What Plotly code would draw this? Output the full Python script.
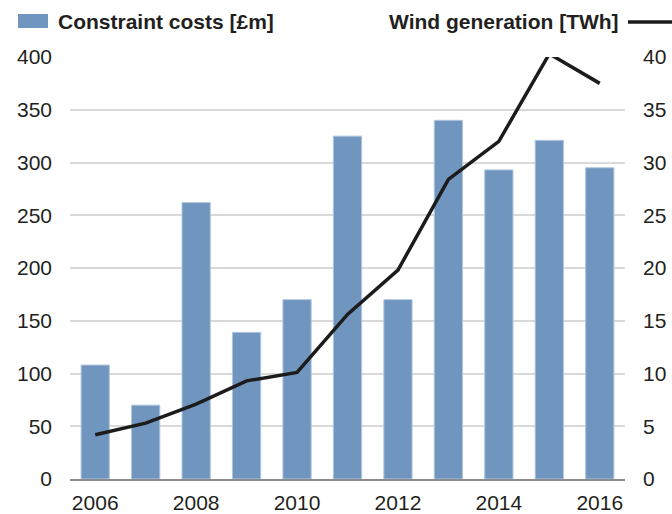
import plotly.graph_objects as go

years = [2006, 2007, 2008, 2009, 2010, 2011, 2012, 2013, 2014, 2015, 2016]
constraint_costs = [108, 70, 262, 139, 170, 325, 170, 340, 293, 321, 295]
wind_generation = [4.2, 5.3, 7.1, 9.3, 10.1, 15.6, 19.8, 28.4, 32.0, 40.3, 37.5]
x_tick_vals = [2006, 2008, 2010, 2012, 2014, 2016]
left_ticks = [0, 50, 100, 150, 200, 250, 300, 350, 400]
right_ticks = [0, 5, 10, 15, 20, 25, 30, 35, 40]

FONT = "Liberation Sans, Arial, sans-serif"
BAR_COLOR = "#7096bf"
LINE_COLOR = "#1c1c1c"
TEXT_COLOR = "#231f20"

L, R, T, B = 70, 47, 57, 35
PW = 672 - L - R
PH = 514 - T - B


def px(x):
    return (x - L) / PW


def py(y):
    return (514 - B - y) / PH


fig = go.Figure()
fig.add_trace(go.Bar(
    x=years, y=constraint_costs, name="Constraint costs [£m]",
    marker=dict(color=BAR_COLOR, line=dict(color="#b0c6df", width=1)),
    showlegend=False, yaxis="y",
))
fig.add_trace(go.Scatter(
    x=years, y=wind_generation, name="Wind generation [TWh]",
    mode="lines", line=dict(color=LINE_COLOR, width=3.5),
    showlegend=False, yaxis="y2", cliponaxis=False,
))

fig.update_layout(
    width=672, height=514,
    margin=dict(l=L, r=R, t=T, b=B, autoexpand=False),
    paper_bgcolor="white", plot_bgcolor="white",
    bargap=0.44,
    font=dict(family=FONT, size=21, color=TEXT_COLOR),
    xaxis=dict(
        range=[2005.5, 2016.5], tickvals=x_tick_vals, automargin=False,
        showgrid=False, showline=True, linecolor="#8c8c8c", linewidth=2,
        ticks="", ticklabelstandoff=4, zeroline=False,
    ),
    yaxis=dict(
        range=[0, 400], tickvals=left_ticks, automargin=False,
        showgrid=True, gridcolor="#d9d9d9", gridwidth=2,
        zeroline=False, ticks="", ticklabelstandoff=17,
    ),
    yaxis2=dict(
        range=[0, 40], tickvals=right_ticks, overlaying="y", side="right",
        automargin=False,
        showgrid=False, zeroline=False, ticks="", ticklabelstandoff=17,
    ),
    shapes=[
        dict(type="rect", xref="paper", yref="paper",
             x0=px(18), x1=px(48), y0=py(28), y1=py(14),
             fillcolor=BAR_COLOR, line=dict(width=0)),
        dict(type="line", xref="paper", yref="paper",
             x0=px(628), x1=px(672), y0=py(22), y1=py(22),
             line=dict(color=LINE_COLOR, width=3.5)),
    ],
    annotations=[
        dict(text="<b>Constraint costs [£m]</b>", xref="paper", yref="paper",
             x=px(56), y=py(21), xanchor="left", yanchor="middle",
             showarrow=False, font=dict(family=FONT, size=21, color=TEXT_COLOR)),
        dict(text="<b>Wind generation [TWh]</b>", xref="paper", yref="paper",
             x=px(621), y=py(21), xanchor="right", yanchor="middle",
             showarrow=False, font=dict(family=FONT, size=21, color=TEXT_COLOR)),
    ],
)

fig.write_html("out.html", config={"displayModeBar": False},
               post_script="document.body.style.margin='0';")
